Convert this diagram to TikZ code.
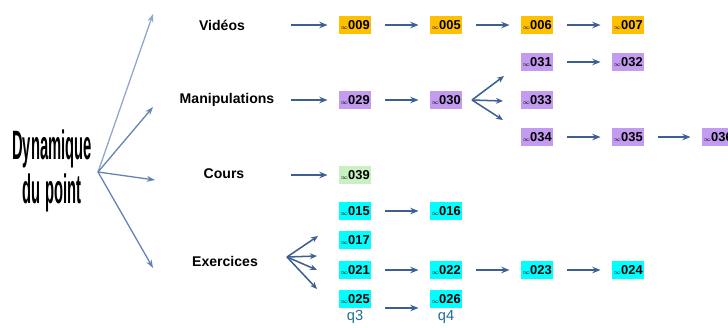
\documentclass[tikz,border=0pt]{standalone}
\usepackage{fontspec}
\setmainfont{Liberation Sans}
\usetikzlibrary{arrows.meta}
\definecolor{videoColor}{HTML}{FFC000}
\definecolor{manipColor}{HTML}{C39BF0}
\definecolor{coursColor}{HTML}{C8F0C0}
\definecolor{exoColor}{HTML}{00FFFF}
\definecolor{flowColor}{HTML}{3E5F92}
\definecolor{fanColor}{HTML}{6482B2}
\definecolor{qColor}{HTML}{1F6F95}
\newcommand{\resnum}[1]{{\fontsize{5}{5}\selectfont$\infty$}#1}

\begin{document}
\begin{tikzpicture}[x=0.03cm, y=-0.03cm,
    res/.style={inner sep=0pt, minimum width=26.5pt, minimum height=15pt,
      font=\fontsize{11}{12}\selectfont\bfseries},
    vid/.style={res, fill=videoColor},
    manip/.style={res, fill=manipColor},
    cours/.style={res, fill=coursColor},
    exo/.style={res, fill=exoColor},
    categ/.style={font=\fontsize{12}{13}\selectfont\bfseries},
    qlab/.style={inner sep=0pt, text=qColor, font=\fontsize{12.5}{13}\selectfont},
    flow/.style={draw=flowColor, line width=1.3pt,
      -{Stealth[length=7pt,width=5.5pt]}, shorten >=10pt, shorten <=12pt},
    lead/.style={flow, shorten <=0pt},
    fan/.style={draw=fanColor, line width=1.1pt,
      -{Stealth[length=7pt,width=5pt]}},
    fork/.style={draw=flowColor, line width=1.3pt,
      -{Stealth[length=6pt,width=5pt]}}]
  \useasboundingbox (0,0) rectangle (728,327);

  % theme
  \node[align=center, inner sep=0pt, font=\fontsize{35}{38}\selectfont\bfseries] (dyn) at (52,171)
    {\scalebox{0.36}[1]{Dynamique}\\\scalebox{0.36}[1]{du point}};
  \coordinate (o) at (98,172);
  \coordinate (tv) at (153,14);
  \coordinate (tm) at (153,107);
  \coordinate (tc) at (155,180);
  \coordinate (te) at (153,268);
  \draw[fan, draw=fanColor!70] (o) -- (tv);
  \draw[fan] (o) -- (tm);
  \draw[fan] (o) -- (tc);
  \draw[fan] (o) -- (te);

  % categories
  \node[categ] (vid) at (222,25) {Vidéos};
  \node[categ] (man) at (227,100) {Manipulations};
  \node[categ] (cou) at (224,174) {Cours};
  \node[categ] (exe) at (225,261) {Exercices};

  % videos
  \node[vid] (v09) at (355,25) {\resnum{009}};
  \node[vid] (v05) at (446,25) {\resnum{005}};
  \node[vid] (v06) at (537,25) {\resnum{006}};
  \node[vid] (v07) at (628,25) {\resnum{007}};
  \coordinate (sv) at (291,25);
  \draw[lead] (sv) -- (v09);
  \draw[flow] (v09) -- (v05);
  \draw[flow] (v05) -- (v06);
  \draw[flow] (v06) -- (v07);

  % manipulations
  \node[manip] (m29) at (355,100) {\resnum{029}};
  \node[manip] (m30) at (446,100) {\resnum{030}};
  \node[manip] (m31) at (537,62) {\resnum{031}};
  \node[manip] (m32) at (628,62) {\resnum{032}};
  \node[manip] (m33) at (537,100) {\resnum{033}};
  \node[manip] (m34) at (537,137) {\resnum{034}};
  \node[manip] (m35) at (628,137) {\resnum{035}};
  \node[manip] (m36) at (718,137) {\resnum{036}};
  \coordinate (sm) at (291,100);
  \draw[lead] (sm) -- (m29);
  \draw[flow] (m29) -- (m30);
  \coordinate (om) at (472,100);
  \coordinate (om1) at (504,76);
  \coordinate (om2) at (503,101);
  \coordinate (om3) at (503,120);
  \draw[fork] (om) -- (om1);
  \draw[fork] (om) -- (om2);
  \draw[fork] (om) -- (om3);
  \draw[flow] (m31) -- (m32);
  \draw[flow] (m34) -- (m35);
  \draw[flow] (m35) -- (m36);

  % cours
  \node[cours] (c39) at (355,175) {\resnum{039}};
  \coordinate (sc) at (291,175);
  \draw[lead] (sc) -- (c39);

  % exercices
  \node[exo] (e15) at (355,211) {\resnum{015}};
  \node[exo] (e16) at (446,211) {\resnum{016}};
  \node[exo] (e17) at (355,240) {\resnum{017}};
  \node[exo] (e21) at (355,270) {\resnum{021}};
  \node[exo] (e22) at (446,270) {\resnum{022}};
  \node[exo] (e23) at (537,270) {\resnum{023}};
  \node[exo] (e24) at (628,270) {\resnum{024}};
  \node[exo] (e25) at (355,299) {\resnum{025}};
  \node[exo] (e26) at (446,299) {\resnum{026}};
  \node[qlab] (q3) at (355,317) {q3};
  \node[qlab] (q4) at (446,317) {q4};
  \coordinate (oe) at (287,257);
  \coordinate (oe1) at (318,236);
  \coordinate (oe2) at (317,256);
  \coordinate (oe3) at (317,270);
  \coordinate (oe4) at (317,289);
  \draw[fork] (oe) -- (oe1);
  \draw[fork] (oe) -- (oe2);
  \draw[fork] (oe) -- (oe3);
  \draw[fork] (oe) -- (oe4);
  \draw[flow] (e15) -- (e16);
  \draw[flow] (e21) -- (e22);
  \draw[flow] (e22) -- (e23);
  \draw[flow] (e23) -- (e24);
  \draw[flow] (e25.south east) -- (e26.south west);
\end{tikzpicture}
\end{document}
